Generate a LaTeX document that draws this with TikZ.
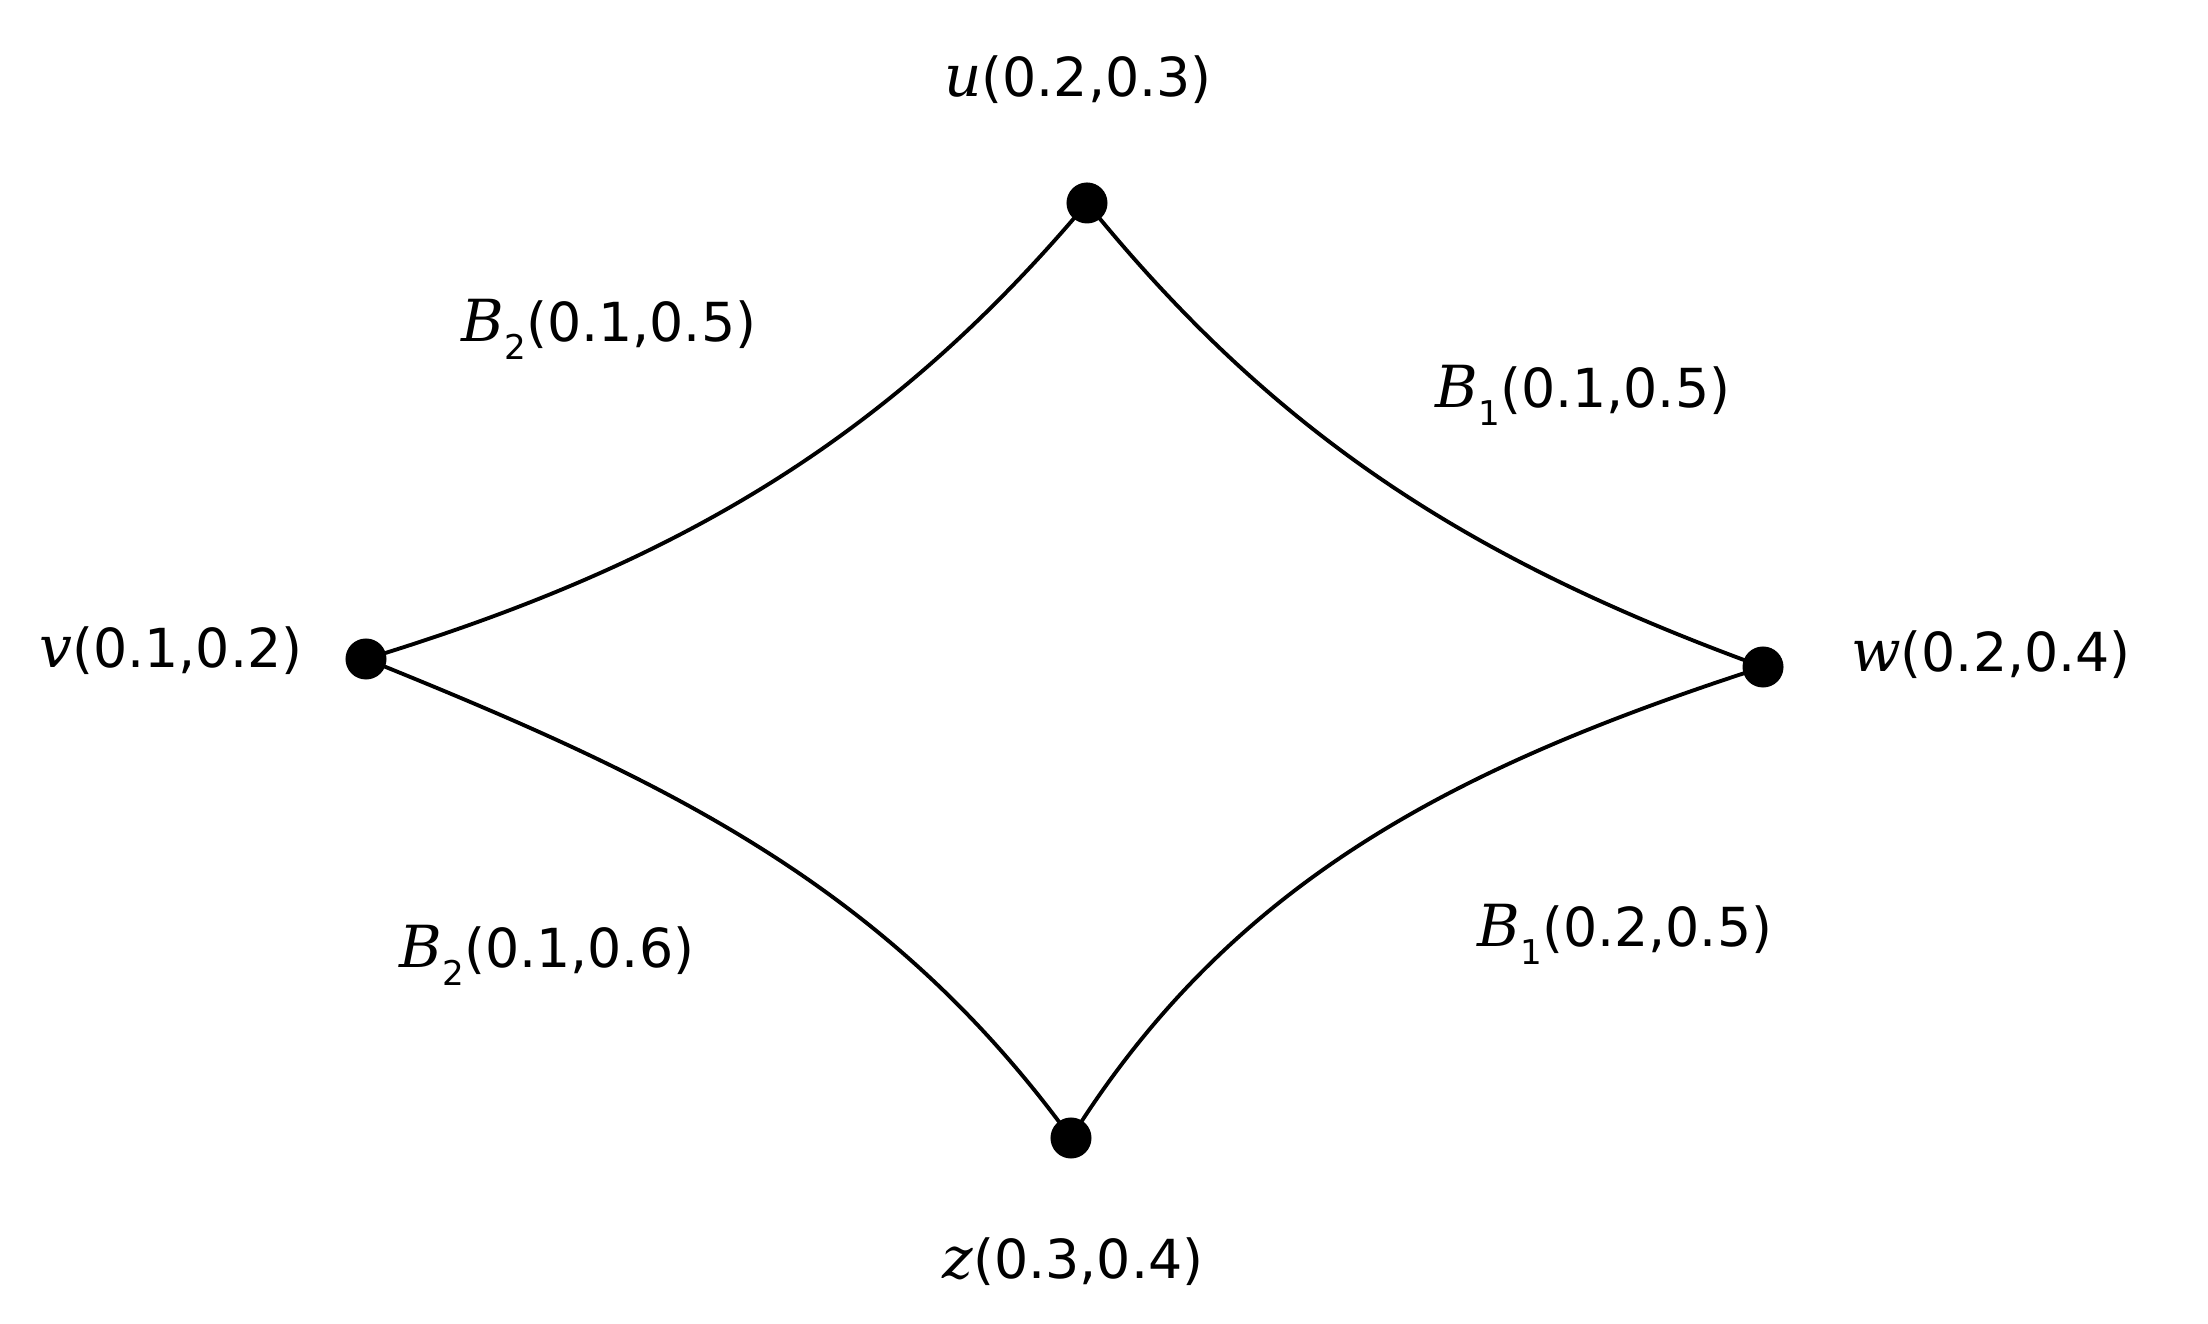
\documentclass[tikz,border=0pt]{standalone}
\usepackage{fontspec}
\newfontfamily\digfont{DejaVu Sans}
\newfontfamily\letfont{DejaVu Serif}
\newcommand{\mylab}[2]{{\fontsize{16.5}{18}\selectfont\letfont\itshape #1}{\fontsize{15.3}{18}\selectfont\digfont #2}}
\newcommand{\mysublab}[3]{{\fontsize{16.5}{18}\selectfont\letfont\itshape #1}\raisebox{-5pt}{\fontsize{9.7}{10}\selectfont\digfont #2}{\fontsize{15.3}{18}\selectfont\digfont #3}}
\begin{document}
\begin{tikzpicture}[x=0.01cm,y=0.01cm,
  dot/.style={circle,fill=black,draw=none,minimum size=0.41cm,inner sep=0pt},
  lbl/.style={anchor=base,inner sep=0pt},
  edge/.style={line width=1.1pt,black,looseness=0.95}]
\useasboundingbox[fill=white] (0,0) rectangle (2208,1324);
% vertices
\node[dot] (u) at (1087,1121) {};
\node[dot] (v) at (366,665) {};
\node[dot] (w) at (1763,657) {};
\node[dot] (z) at (1071,186) {};
% vertex labels
\node[lbl] (ul) at (1078,1227) {\mylab{u}{(0.2,0.3)}};
\node[lbl] (vl) at (171,656) {\mylab{v}{(0.1,0.2)}};
\node[lbl] (wl) at (1991,652) {\mylab{w}{(0.2,0.4)}};
\node[lbl] (zl) at (1073,45) {\mylab{z}{(0.3,0.4)}};
% edge labels
\node[lbl] (e1) at (609,982) {\mysublab{B}{2}{(0.1,0.5)}};
\node[lbl] (e2) at (1583,916) {\mysublab{B}{1}{(0.1,0.5)}};
\node[lbl] (e3) at (547,356) {\mysublab{B}{2}{(0.1,0.6)}};
\node[lbl] (e4) at (1625,377) {\mysublab{B}{1}{(0.2,0.5)}};
% edges
\draw[edge] (v.center) to[out=17,in=230] (u.center);
\draw[edge] (u.center) to[out=-51,in=160] (w.center);
\draw[edge] (v.center) to[out=-22,in=126] (z.center);
\draw[edge] (z.center) to[out=58,in=198] (w.center);
\end{tikzpicture}
\end{document}
